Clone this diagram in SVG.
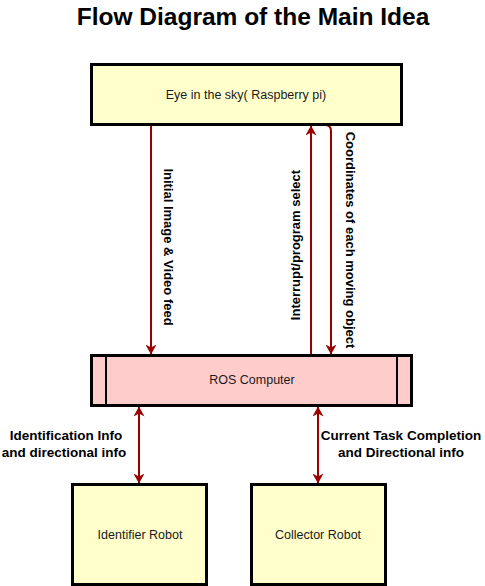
<svg xmlns="http://www.w3.org/2000/svg" width="485" height="586" viewBox="0 0 485 586">
<style>
.box{stroke:#000;stroke-width:3}
.y{fill:#FFFFCC}
.p{fill:#FFCCCC}
.t{font-family:"Liberation Sans",Arial,sans-serif;font-size:12.5px;fill:#1a1a1a;text-anchor:middle}
.l{font-family:"Liberation Sans",Arial,sans-serif;font-size:13.5px;font-weight:bold;fill:#000;text-anchor:middle}
.v{font-size:13px}
.e{fill:none;stroke:#990000;stroke-width:2}
</style>
<defs>
<marker id="a" viewBox="0 0 10 11" refX="9.5" refY="5.5" markerWidth="10" markerHeight="11" orient="auto-start-reverse" markerUnits="userSpaceOnUse">
<path d="M0,0 L10,5.5 L0,11 L3,5.5 z" fill="#990000"/>
</marker>
</defs>
<rect width="485" height="586" fill="#fff"/>
<text x="253" y="25" font-family="Liberation Sans,Arial,sans-serif" font-size="24.5" font-weight="bold" text-anchor="middle">Flow Diagram of the Main Idea</text>
<g id="connectors">
<path class="e" d="M151 125 L151 354" marker-end="url(#a)"/>
<path class="e" d="M311 355 L311 126" marker-end="url(#a)"/>
<path class="e" d="M325 125 Q331 125 331 131 L331 354" marker-end="url(#a)"/>
<path class="e" d="M139 407 L139 483" marker-start="url(#a)" marker-end="url(#a)"/>
<path class="e" d="M318 407 L318 483" marker-start="url(#a)" marker-end="url(#a)"/>
<text class="l v" transform="translate(164,247) rotate(90)">Initial Image &amp; Video feed</text>
<text class="l v" transform="translate(300,245) rotate(-90)">Interrupt/program select</text>
<text class="l v" transform="translate(346,240) rotate(90)">Coordinates of each moving object</text>
<text class="l" x="66" y="440">Identification Info</text>
<text class="l" x="64" y="457">and directional info</text>
<text class="l" x="401" y="440">Current Task Completion</text>
<text class="l" x="401" y="457">and Directional info</text>
</g>
<g id="eye">
<rect class="box y" x="91.5" y="64.5" width="310" height="60"/>
<text class="t" x="246" y="99">Eye in the sky( Raspberry pi)</text>
</g>
<g id="ros">
<rect class="box p" x="91.5" y="355.5" width="320" height="50"/>
<line x1="106" y1="355" x2="106" y2="406" stroke="#000" stroke-width="2"/>
<line x1="397" y1="355" x2="397" y2="406" stroke="#000" stroke-width="2"/>
<text class="t" x="252" y="384">ROS Computer</text>
</g>
<g id="identifier">
<rect class="box y" x="72.5" y="484.5" width="134" height="100"/>
<text class="t" x="140" y="539">Identifier Robot</text>
</g>
<g id="collector">
<rect class="box y" x="251.5" y="484.5" width="134" height="100"/>
<text class="t" x="318" y="539">Collector Robot</text>
</g>
</svg>
